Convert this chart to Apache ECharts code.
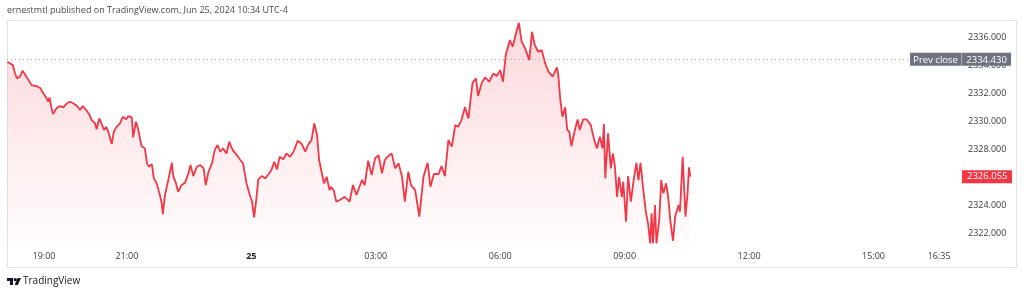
<!DOCTYPE html>
<html><head><meta charset="utf-8">
<script src="https://cdn.jsdelivr.net/npm/echarts@6/dist/echarts.min.js"></script>
<style>html,body{margin:0;padding:0;background:#fff}#c{width:1024px;height:296px}</style>
</head><body><div id="c"></div>
<script>
// minutes after Jun 24 18:00 (UTC-4)
const minutes = [7,11,15,18,21,25,29,33,37,42,49,55,59,64,66,68,71,73,78,83,88,93,98,102,108,112,116,121,126,129,134,136,140,144,147,150,153,158,161,165,170,174,179,182,187,189,193,196,201,206,209,212,216,219,223,227,230,232,235,240,245,247,251,254,259,264,269,272,276,281,286,291,294,298,303,307,311,315,319,324,328,333,339,344,348,353,357,361,364,367,370,375,380,385,389,393,397,401,406,411,416,421,427,433,438,442,447,451,455,458,462,465,469,473,475,479,483,488,495,502,507,512,520,524,529,534,539,544,549,553,558,563,568,573,578,582,587,591,597,603,609,615,619,624,631,635,640,645,650,655,659,664,669,674,680,685,688,693,698,704,710,715,720,724,728,734,738,743,747,751,756,762,766,770,775,780,785,790,796,802,804,807,810,814,817,820,823,828,832,835,840,845,851,856,860,864,868,870,872,876,880,883,886,889,892,896,898,902,905,909,913,917,920,923,927,931,934,937,939,941,944,946,950,953,956,960,963,966,970,973,978,980,984,988,991,993,995];
const prices = [2334.26,2334.14,2334.02,2333.43,2333.07,2333.19,2333.61,2333.31,2333.00,2332.59,2332.52,2332.36,2332.00,2331.64,2331.40,2331.71,2330.93,2330.52,2330.93,2331.09,2331.00,2331.29,2331.40,2331.29,2331.09,2330.81,2331.09,2330.81,2330.45,2330.09,2329.86,2329.43,2330.21,2329.74,2329.38,2329.61,2329.26,2328.38,2329.26,2329.61,2329.86,2330.33,2330.14,2330.38,2330.29,2328.86,2329.97,2329.50,2328.24,2328.07,2327.00,2326.76,2326.95,2325.93,2325.57,2324.86,2324.26,2323.38,2324.74,2325.86,2327.04,2326.09,2325.57,2324.97,2325.45,2325.61,2326.29,2326.88,2326.09,2326.76,2326.88,2326.64,2325.45,2326.40,2327.00,2327.95,2328.31,2327.83,2328.07,2327.71,2328.54,2327.95,2327.59,2327.24,2327.00,2325.57,2324.86,2324.26,2323.14,2324.38,2325.86,2326.09,2325.93,2326.24,2326.52,2327.11,2326.57,2327.47,2327.29,2327.71,2327.47,2327.83,2328.61,2328.38,2327.83,2328.31,2328.66,2329.86,2329.02,2327.24,2326.29,2325.57,2326.04,2325.09,2325.33,2325.09,2324.26,2324.38,2324.61,2324.26,2325.45,2324.74,2325.81,2325.45,2327.19,2326.16,2327.36,2327.59,2326.29,2327.24,2327.52,2327.71,2326.64,2327.00,2326.04,2324.26,2326.40,2325.45,2325.09,2323.19,2326.04,2327.04,2325.33,2326.24,2326.24,2326.81,2326.09,2328.66,2328.19,2329.74,2329.61,2330.09,2331.00,2330.21,2332.76,2333.07,2331.81,2332.71,2333.14,2332.83,2333.43,2333.24,2333.66,2332.83,2334.74,2335.81,2335.33,2336.33,2337.04,2335.69,2335.21,2334.38,2336.40,2335.45,2334.97,2335.09,2334.14,2333.54,2333.19,2333.86,2333.31,2331.52,2330.33,2331.00,2329.38,2329.26,2328.24,2329.38,2330.14,2329.38,2330.14,2330.14,2329.74,2328.66,2328.07,2328.90,2328.07,2329.81,2325.93,2329.14,2326.64,2327.71,2326.76,2324.61,2326.04,2324.61,2325.69,2322.83,2326.09,2324.26,2325.81,2327.04,2325.81,2327.04,2325.09,2323.43,2322.66,2321.29,2323.43,2321.29,2324.02,2321.29,2322.95,2325.81,2324.86,2325.57,2324.61,2322.95,2321.47,2323.19,2324.02,2323.54,2327.47,2323.19,2324.86,2326.71,2326.055];
const timeTicks = [60,180,360,540,720,900,1080,1260,1355];
const timeTickLabels = ['19:00','21:00','25','03:00','06:00','09:00','12:00','15:00','16:35'];
const priceTicks = [2322,2324,2326,2328,2330,2332,2334,2336];
const prevClose = 2334.43;
const lastPrice = 2326.055;
const headerText = 'ernestmtl published on TradingView.com, Jun 25, 2024 10:34 UTC-4';
const brandText = 'TradingView';

const FONT = '"Open Sans", sans-serif';
const RED = '#f23645';
const data = minutes.map((m, i) => [m, prices[i]]);
const xMin = 6.5, xMax = 1386.6;

const chart = echarts.init(document.getElementById('c'), null, {renderer: 'canvas'});
chart.setOption({
  animation: false,
  backgroundColor: '#ffffff',
  textStyle: {fontFamily: FONT},
  grid: {left: 7, right: 63, top: 20, bottom: 52, containLabel: false},
  xAxis: {
    type: 'value', min: xMin, max: xMax,
    axisLine: {show: false}, axisTick: {show: false}, splitLine: {show: false},
    axisLabel: {
      customValues: timeTicks, margin: 8, fontSize: 9, color: '#3a3a3a', fontFamily: FONT,
      formatter: v => {
        const i = timeTicks.indexOf(v);
        const s = i >= 0 ? timeTickLabels[i] : '';
        return s === '25' ? '{b|25}' : s;
      },
      rich: {b: {fontWeight: 'bold', fontSize: 9, color: '#222', fontFamily: FONT}}
    }
  },
  yAxis: {
    type: 'value', position: 'right', min: 2321.24, max: 2337.24,
    axisLine: {show: false}, axisTick: {show: false}, splitLine: {show: false},
    axisLabel: {
      customValues: priceTicks, margin: 7, fontSize: 9, color: '#3a3a3a', fontFamily: FONT,
      formatter: v => v.toFixed(3)
    }
  },
  series: [{
    type: 'line', data: data, showSymbol: false, symbol: 'none',
    lineStyle: {color: RED, width: 1.8},
    itemStyle: {color: RED},
    areaStyle: {
      origin: 'start',
      color: new echarts.graphic.LinearGradient(0, 0, 0, 1, [
        {offset: 0, color: 'rgba(242,54,69,0.28)'},
        {offset: 1, color: 'rgba(242,54,69,0.02)'}
      ])
    },
    markLine: {
      silent: true, symbol: ['none', 'none'], animation: false,
      data: [
        [
          {coord: [xMin, prevClose],
           lineStyle: {type: [1, 3], color: '#a3a6af', width: 1},
           label: {
             show: true, position: 'end', distance: 2,
             formatter: '{a|Prev close}{s|}{b|' + prevClose.toFixed(3) + '}',
             rich: {
               a: {backgroundColor: '#6f7380', color: '#fff', fontSize: 9.5, fontFamily: FONT, padding: [2, 4, 1, 4], width: 43, align: 'center', lineHeight: 10},
               s: {backgroundColor: '#a3a6af', width: 1, height: 13, padding: 0},
               b: {backgroundColor: '#6f7380', color: '#fff', fontSize: 9.5, fontFamily: FONT, padding: [2, 4, 1, 4], width: 41, align: 'center', lineHeight: 10}
             }
           }},
          {coord: [1310, prevClose]}
        ],
        {
          yAxis: lastPrice,
          lineStyle: {color: 'rgba(0,0,0,0)', width: 1, type: 'solid'},
          label: {
            show: true, position: 'end', distance: 1,
            formatter: lastPrice.toFixed(3),
            backgroundColor: RED, color: '#ffffff', fontSize: 9.5, fontFamily: FONT,
            padding: [2, 4, 1, 5], width: 41, lineHeight: 10
          }
        }
      ]
    }
  }],
  graphic: [
    {type: 'rect', shape: {x: 7.5, y: 20.5, width: 1009, height: 247}, style: {fill: 'none', stroke: '#e0e3eb', lineWidth: 1}, silent: true, z: -1},
    {type: 'text', left: 7, top: 6, style: {text: headerText, fontSize: 9, fontFamily: FONT, fill: '#4a4a4a'}},
    {type: 'group', left: 7, top: 278, children: [
      {type: 'polygon', shape: {points: [[0,0],[6,0],[6,7],[3,7],[3,3],[0,3]]}, style: {fill: '#131722'}},
      {type: 'circle', shape: {cx: 8.2, cy: 1.7, r: 1.6}, style: {fill: '#131722'}},
      {type: 'polygon', shape: {points: [[10.5,0],[14,0],[10.8,7],[7.6,7]]}, style: {fill: '#131722'}}
    ]},
    {type: 'text', left: 23, top: 276, style: {text: brandText, fontSize: 10, fontFamily: FONT, fill: '#131722'}}
  ]
});
</script></body></html>
